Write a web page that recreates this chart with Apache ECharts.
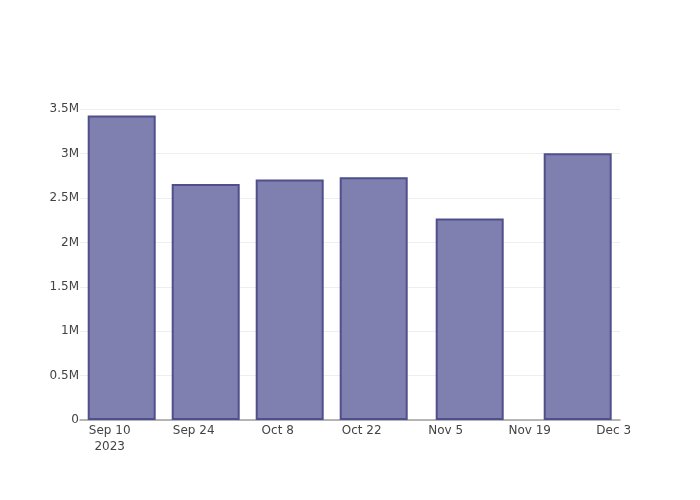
<!DOCTYPE html>
<html>
<head>
<meta charset="utf-8">
<script src="https://cdn.jsdelivr.net/npm/echarts@6/dist/echarts.min.js"></script>
<style>html,body{margin:0;padding:0;background:#fff;}#c{width:700px;height:500px;}</style>
</head>
<body>
<div id="c"></div>
<script>
const dates = ['2023-09-12', '2023-09-26', '2023-10-10', '2023-10-24', '2023-11-09', '2023-11-27'];
const values = [3430000, 2660000, 2710000, 2735000, 2270000, 3005000];
const xTickDates = ['2023-09-10', '2023-09-24', '2023-10-08', '2023-10-22', '2023-11-05', '2023-11-19', '2023-12-03'];
const xTickLabels = ['Sep 10\n2023', 'Sep 24', 'Oct 8', 'Oct 22', 'Nov 5', 'Nov 19', 'Dec 3'];
const yTicks = [0, 500000, 1000000, 1500000, 2000000, 2500000, 3000000, 3500000];
const yTickLabels = ['0', '0.5M', '1M', '1.5M', '2M', '2.5M', '3M', '3.5M'];

const ts = d => Date.parse(d + 'T00:00:00Z');
const DAY = 86400000;
const xTickVals = xTickDates.map(ts);
const labelMap = {};
xTickVals.forEach((v, i) => labelMap[v] = xTickLabels[i]);
const yLabelMap = {};
yTicks.forEach((v, i) => yLabelMap[v] = yTickLabels[i]);

const chart = echarts.init(document.getElementById('c'), null, {renderer: 'canvas'});
chart.setOption({
  animation: false,
  backgroundColor: '#fff',
  textStyle: {fontFamily: 'DejaVu Sans'},
  grid: {left: 80, right: 80, top: 100, bottom: 80, containLabel: false},
  xAxis: {
    type: 'value',
    min: ts('2023-09-10') - 4.95 * DAY,
    max: ts('2023-12-03') + 1.05 * DAY,
    axisLine: {show: true, onZero: false, lineStyle: {color: '#a0a0a0', width: 1.5}},
    axisTick: {show: false, customValues: xTickVals},
    splitLine: {show: false},
    axisLabel: {
      customValues: xTickVals,
      color: '#444', fontSize: 12, fontFamily: 'DejaVu Sans', margin: 3, lineHeight: 16,
      formatter: v => labelMap[v] || ''
    }
  },
  yAxis: {
    type: 'value',
    min: 0,
    max: 3605000,
    axisLine: {show: false},
    axisTick: {show: false, customValues: yTicks},
    splitLine: {show: true, lineStyle: {color: '#eeeeee', width: 1}},
    axisLabel: {
      customValues: yTicks,
      color: '#444', fontSize: 12, fontFamily: 'DejaVu Sans', margin: 1,
      padding: [6, 0, 0, 0],
      formatter: v => yLabelMap[v] !== undefined ? yLabelMap[v] : ''
    }
  },
  series: [{
    type: 'bar',
    data: dates.map((d, i) => [ts(d), values[i]]),
    barWidth: 68,
    itemStyle: {color: '#7f7fb0', borderColor: '#4f4f8c', borderWidth: 2}
  }]
});
</script>
</body>
</html>
